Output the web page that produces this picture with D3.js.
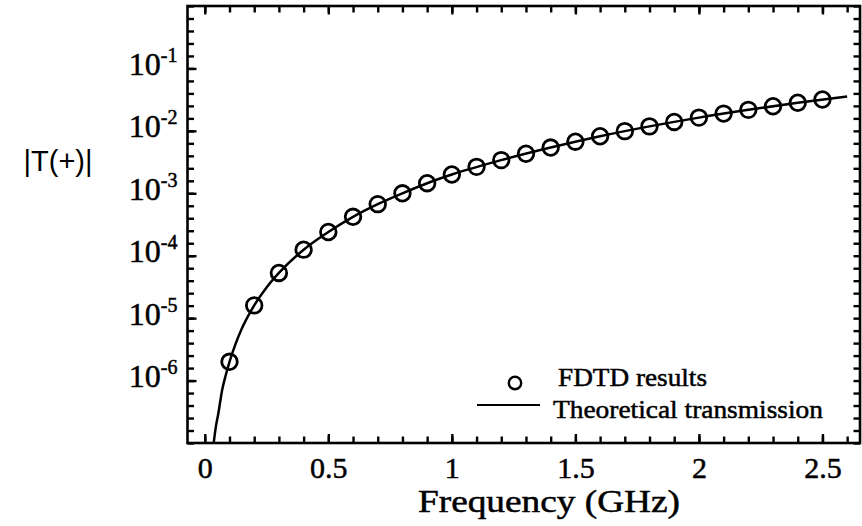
<!DOCTYPE html>
<html lang="en">
<head>
<meta charset="utf-8">
<title>|T(+)| vs frequency</title>
<script src="https://cdn.jsdelivr.net/npm/d3@7"></script>
<style>
  body { margin: 0; background: #fff; }
  svg { display: block; }
  .serif { font-family: "Liberation Serif", "Times New Roman", serif; }
  .ink { stroke: #000; stroke-width: 0.5px; }
</style>
</head>
<body>
<script>
// data
const freqFDTD = [0.1, 0.2, 0.3, 0.4, 0.5, 0.6, 0.7, 0.8, 0.9, 1.0, 1.1, 1.2, 1.3,
                  1.4, 1.5, 1.6, 1.7, 1.8, 1.9, 2.0, 2.1, 2.2, 2.3, 2.4, 2.5];
const tFDTD = [2.0e-6, 1.6e-5, 5.3e-5, 1.25e-4, 2.4e-4, 4.2e-4, 6.7e-4, 1.0e-3, 1.45e-3,
               2.0e-3, 2.65e-3, 3.4e-3, 4.3e-3, 5.4e-3, 6.7e-3, 8.2e-3, 9.9e-3, 1.18e-2,
               1.39e-2, 1.63e-2, 1.89e-2, 2.17e-2, 2.48e-2, 2.82e-2, 3.18e-2];

const freqTheory = [0.036, 0.045, 0.055, 0.07, 0.085, 0.1, 0.125, 0.15, 0.2, 0.25, 0.3,
                    0.4, 0.5, 0.6, 0.7, 0.8, 0.9, 1.0, 1.2, 1.4, 1.6, 1.8, 2.0, 2.2, 2.4, 2.6];
const tTheory = [1.0e-7, 1.85e-7, 3.0e-7, 7.0e-7, 1.23e-6, 2.0e-6, 3.9e-6, 6.8e-6, 1.6e-5,
                 3.1e-5, 5.3e-5, 1.25e-4, 2.4e-4, 4.2e-4, 6.7e-4, 1.0e-3, 1.45e-3, 2.0e-3,
                 3.4e-3, 5.4e-3, 8.2e-3, 1.18e-2, 1.63e-2, 2.17e-2, 2.82e-2, 3.56e-2];

const xMajorTicks = [0, 0.5, 1, 1.5, 2, 2.5];
const yMajorExps = [-6, -5, -4, -3, -2, -1];
const legendLabels = ["FDTD results", "Theoretical transmission"];

// sizes
const width = 862, height = 526;
const plotLeft = 187.5, plotRight = 860, plotTop = 6, plotBottom = 443;

const svg = d3.select("body").append("svg")
    .attr("width", width)
    .attr("height", height);

// scales
const x = d3.scaleLinear().domain([-0.07, 2.652]).range([plotLeft, plotRight]);
const y = d3.scaleLog().domain([1e-7, 1]).range([plotBottom, plotTop]);

const xMinor = d3.range(0, 27).map(i => i / 10);
const yMinor = d3.range(-35, 1).map(k => Math.pow(10, k / 5));
const yMajor = yMajorExps.map(e => Math.pow(10, e));

function cleanAxis(g) {
    g.select(".domain").remove();
    g.selectAll(".tick line").attr("stroke", "#000").attr("stroke-width", 2.4);
}

// bottom axis (ticks pointing in)
svg.append("g")
    .attr("transform", "translate(0," + plotBottom + ")")
    .call(d3.axisBottom(x).tickValues(xMinor).tickSize(-6.5).tickFormat(""))
    .call(cleanAxis);
const xAx = svg.append("g")
    .attr("transform", "translate(0," + plotBottom + ")")
    .call(d3.axisBottom(x).tickValues(xMajorTicks).tickSize(-9).tickFormat(d3.format("")))
    .call(cleanAxis);
xAx.selectAll(".tick text")
    .attr("class", "ink")
    .attr("y", 35).attr("dy", 0)
    .attr("fill", "#000")
    .style("font-size", "30px")
    .style("font-family", "'Liberation Serif', 'Times New Roman', serif");

// top axis
svg.append("g")
    .attr("transform", "translate(0," + plotTop + ")")
    .call(d3.axisTop(x).tickValues(xMinor).tickSize(-6.5).tickFormat(""))
    .call(cleanAxis);
svg.append("g")
    .attr("transform", "translate(0," + plotTop + ")")
    .call(d3.axisTop(x).tickValues(xMajorTicks).tickSize(-8.5).tickFormat(""))
    .call(cleanAxis);

// left axis
svg.append("g")
    .attr("transform", "translate(" + plotLeft + ",0)")
    .call(d3.axisLeft(y).tickValues(yMinor).tickSize(-6.5).tickFormat(""))
    .call(cleanAxis);
const yAx = svg.append("g")
    .attr("transform", "translate(" + plotLeft + ",0)")
    .call(d3.axisLeft(y).tickValues(yMajor).tickSize(-9).tickFormat(""))
    .call(cleanAxis);
yAx.selectAll(".tick").each(function(d) {
    const t = d3.select(this).append("text")
        .attr("class", "ink")
        .attr("x", -10).attr("y", 6)
        .attr("text-anchor", "end")
        .attr("fill", "#000")
        .style("font-family", "'Liberation Serif', 'Times New Roman', serif");
    t.append("tspan").style("font-size", "32px").text("10");
    t.append("tspan").attr("dy", -13).style("font-size", "20px")
        .text("-" + Math.round(-Math.log10(d)));
});

// right axis
svg.append("g")
    .attr("transform", "translate(" + plotRight + ",0)")
    .call(d3.axisRight(y).tickValues(yMinor).tickSize(-6.5).tickFormat(""))
    .call(cleanAxis);

// frame
svg.append("rect")
    .attr("x", plotLeft).attr("y", plotTop)
    .attr("width", plotRight - plotLeft).attr("height", plotBottom - plotTop)
    .attr("fill", "none").attr("stroke", "#000").attr("stroke-width", 2.6);

// clip
svg.append("clipPath").attr("id", "plotclip")
  .append("rect")
    .attr("x", plotLeft).attr("y", plotTop)
    .attr("width", plotRight - plotLeft).attr("height", plotBottom - plotTop);

const plot = svg.append("g").attr("clip-path", "url(#plotclip)");

const theory = freqTheory.map((f, i) => [f, tTheory[i]]);
const line = d3.line()
    .x(d => x(d[0]))
    .y(d => y(d[1]))
    .curve(d3.curveMonotoneX);

plot.append("path")
    .datum(theory)
    .attr("d", line)
    .attr("fill", "none")
    .attr("stroke", "#000")
    .attr("stroke-width", 2.5);

plot.selectAll("circle.fdtd")
    .data(freqFDTD.map((f, i) => [f, tFDTD[i]]))
    .join("circle")
    .attr("class", "fdtd")
    .attr("cx", d => x(d[0]))
    .attr("cy", d => y(d[1]))
    .attr("r", 7.8)
    .attr("fill", "none")
    .attr("stroke", "#000")
    .attr("stroke-width", 2.8);

// legend
const leg = svg.append("g").attr("class", "serif");
leg.append("circle")
    .attr("cx", 515).attr("cy", 383)
    .attr("r", 6.2)
    .attr("fill", "none").attr("stroke", "#000").attr("stroke-width", 2.4);
leg.append("line")
    .attr("x1", 477).attr("x2", 540)
    .attr("y1", 405).attr("y2", 405)
    .attr("stroke", "#000").attr("stroke-width", 2.2);
leg.append("text")
    .attr("class", "ink")
    .attr("x", 558).attr("y", 386)
    .style("font-size", "26px")
    .attr("textLength", 149).attr("lengthAdjust", "spacingAndGlyphs")
    .text(legendLabels[0]);
leg.append("text")
    .attr("class", "ink")
    .attr("x", 553).attr("y", 418)
    .style("font-size", "26px")
    .attr("textLength", 270).attr("lengthAdjust", "spacingAndGlyphs")
    .text(legendLabels[1]);

// axis titles
svg.append("text")
    .attr("class", "serif ink")
    .attr("x", 418).attr("y", 512)
    .style("font-size", "31px")
    .attr("textLength", 262).attr("lengthAdjust", "spacingAndGlyphs")
    .text("Frequency (GHz)");

svg.append("text")
    .attr("x", 58).attr("y", 171)
    .attr("text-anchor", "middle")
    .style("font-family", "'Liberation Sans', Arial, sans-serif")
    .style("font-size", "29px")
    .text("|T(+)|");
</script>
</body>
</html>
